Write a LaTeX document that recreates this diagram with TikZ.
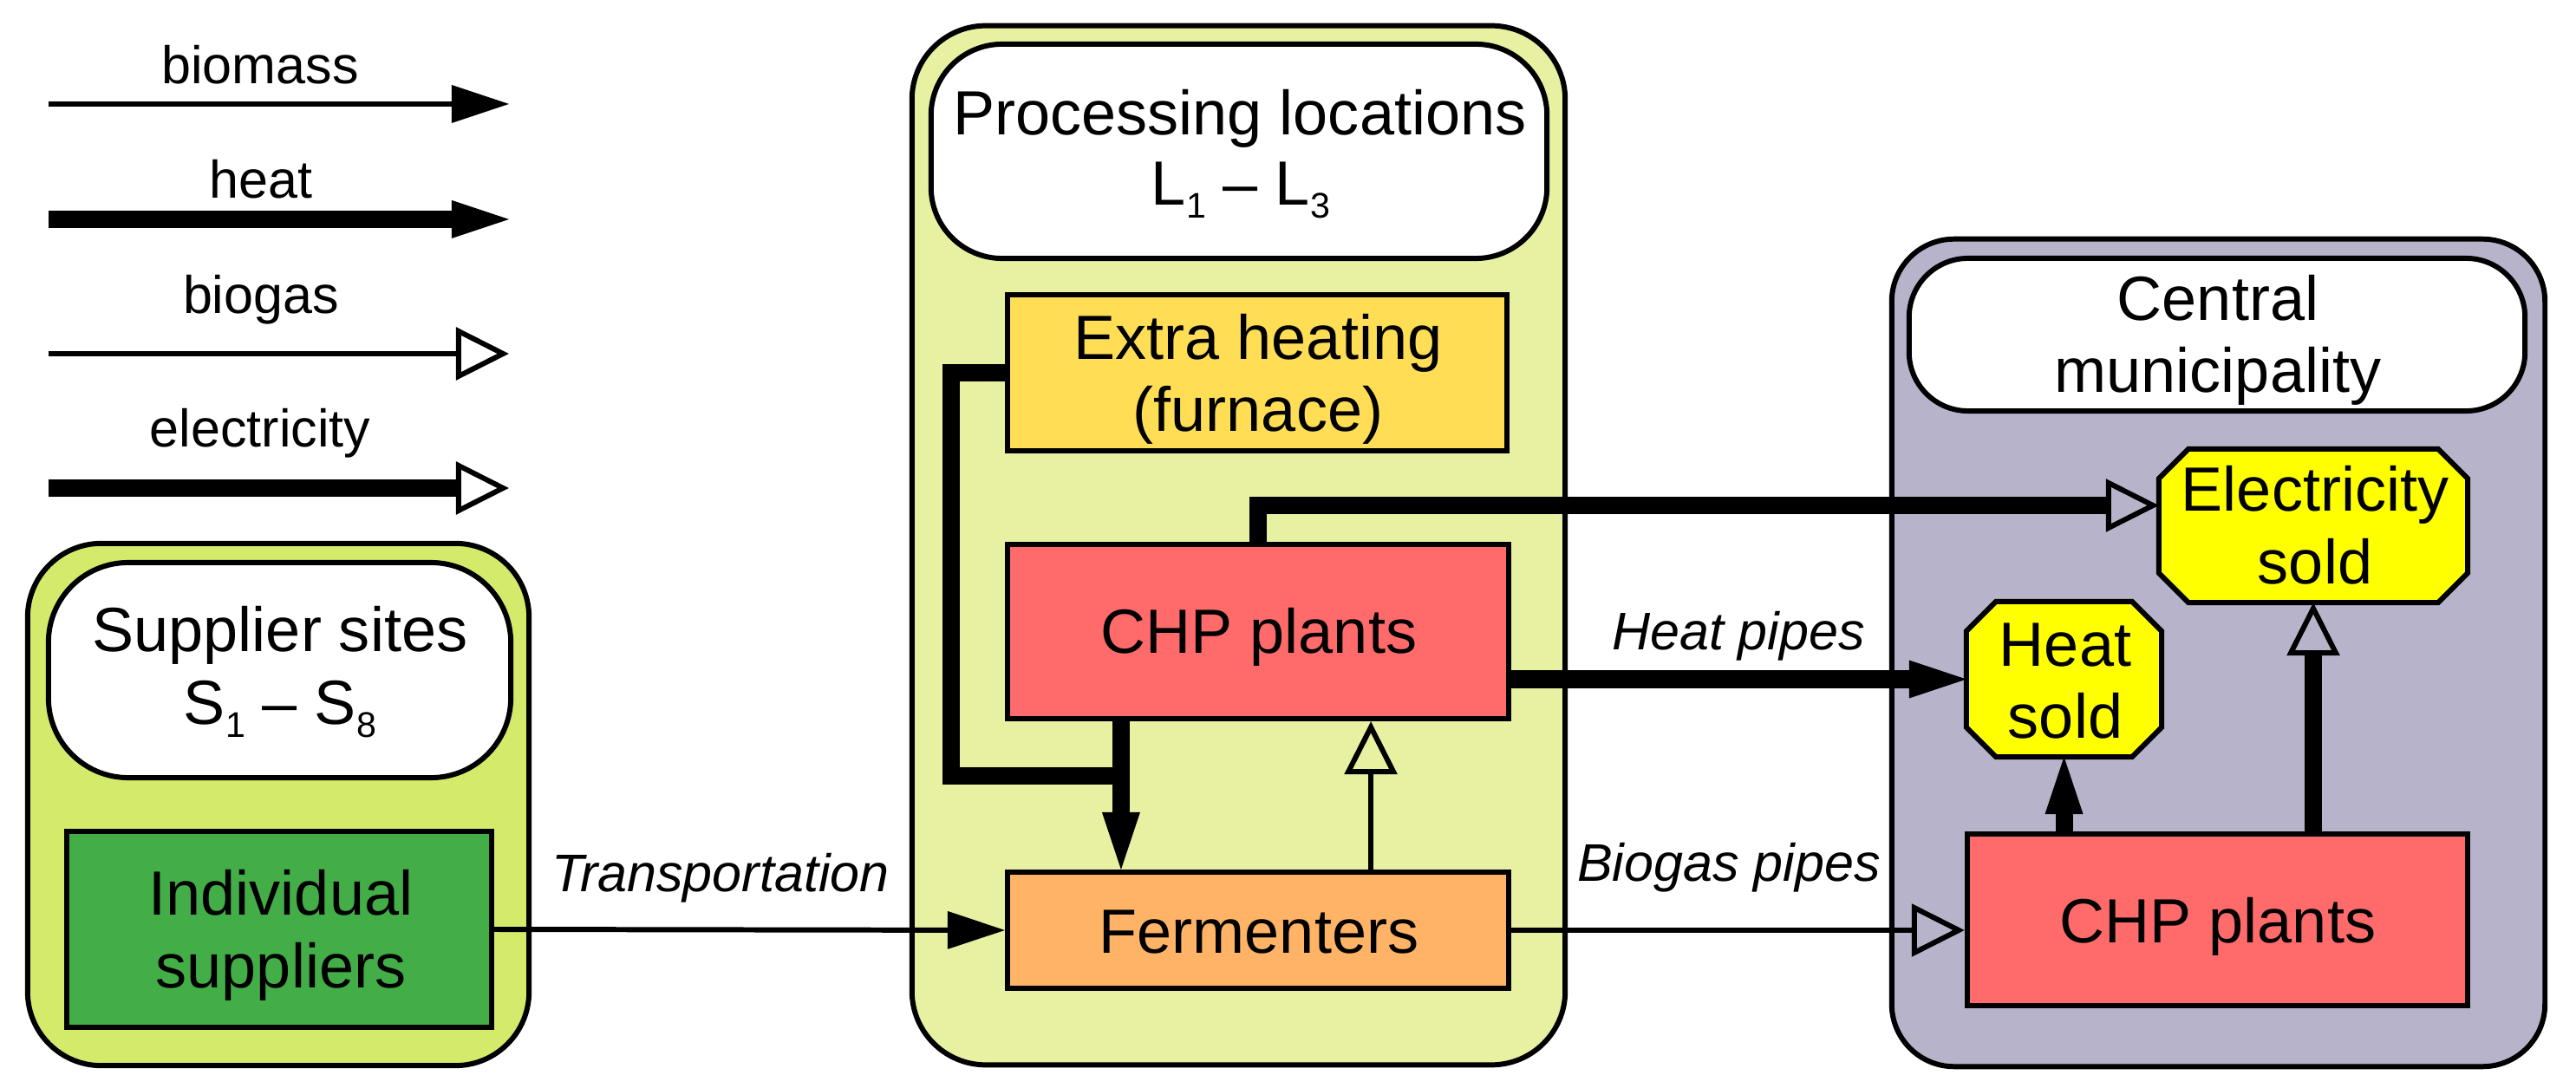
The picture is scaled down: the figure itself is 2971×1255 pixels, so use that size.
\documentclass[tikz,border=0pt]{standalone}
\usepackage{fontspec}
\setmainfont{Liberation Sans}
\usetikzlibrary{arrows.meta}
\definecolor{supfill}{RGB}{212,234,107}
\definecolor{procfill}{RGB}{232,241,162}
\definecolor{cenfill}{RGB}{183,179,203}
\definecolor{indfill}{RGB}{67,173,71}
\definecolor{extrafill}{RGB}{255,221,85}
\definecolor{chpfill}{RGB}{255,107,107}
\definecolor{fermfill}{RGB}{255,179,102}
\definecolor{soldfill}{RGB}{255,255,0}
\newcommand\subsc[1]{\raisebox{-0.2em}{\fontsize{11.7}{12}\selectfont #1}}
\tikzset{
  bw/.style={draw=black, line width=1.7pt},
  grp/.style={bw, rectangle, rounded corners=0.85cm, inner sep=0pt},
  box/.style={bw, rectangle, inner sep=0pt},
  anchorbox/.style={rectangle, inner sep=0pt, outer sep=0pt},
  txt/.style={font=\fontsize{20.49}{24}\selectfont, inner sep=0pt, anchor=base},
  ltxt/.style={font=\fontsize{17.36}{20}\selectfont, inner sep=0pt, anchor=base},
  itxt/.style={font=\fontsize{17.36}{20}\selectfont\itshape, inner sep=0pt, anchor=base},
  biomassflow/.style={line width=1.7pt, line join=miter, -{Triangle[length=18.78pt,width=12.52pt,line width=0pt]}},
  heatflow/.style={line width=5.69pt, line join=miter, -{Triangle[length=18.78pt,width=12.52pt,line width=0pt]}},
  heatline/.style={line width=5.69pt, line join=miter},
  biogasflow/.style={line width=1.7pt, line join=miter, -{Triangle[open,length=17.36pt,width=17.07pt,line width=1.7pt]}},
  elecflow/.style={line width=5.69pt, line join=miter, -{Triangle[open,length=17.36pt,width=17.07pt,line width=1.7pt]}},
}
\begin{document}
\begin{tikzpicture}[x=0.01cm, y=-0.01cm]
\useasboundingbox (0,0) rectangle (2971,1255);

% ---------------- legend ----------------
\coordinate (lb1) at (56,120);  \coordinate (lb2) at (587,120);
\coordinate (lh1) at (56,253);  \coordinate (lh2) at (587,253);
\coordinate (lg1) at (56,408);  \coordinate (lg2) at (587,408);
\coordinate (le1) at (56,563);  \coordinate (le2) at (587,563);
\draw[biomassflow] (lb1) -- (lb2);
\draw[heatflow] (lh1) -- (lh2);
\draw[biogasflow] (lg1) -- (lg2);
\draw[elecflow] (le1) -- (le2);
\node[ltxt] (tbiomass) at (300,97) {biomass};
\node[ltxt] (theat) at (301,229) {heat};
\node[ltxt] (tbiogas) at (301,362) {biogas};
\node[ltxt] (telec) at (300,516) {electricity};

% ---------------- group backgrounds ----------------
\node[grp, fill=supfill, minimum width=5.78cm, minimum height=6.02cm] (supgrp) at (321,928) {};
\node[grp, fill=white, rounded corners=0.92cm, minimum width=5.33cm, minimum height=2.48cm] (suptitle) at (322.5,773) {};
\node[box, fill=indfill, minimum width=4.90cm, minimum height=2.26cm] (indiv) at (322,1072) {};

\node[grp, fill=procfill, minimum width=7.53cm, minimum height=11.98cm] (procgrp) at (1428.5,629) {};
\node[grp, fill=white, rounded corners=0.82cm, minimum width=7.10cm, minimum height=2.47cm] (proctitle) at (1429,174.5) {};
\node[box, fill=extrafill, minimum width=5.76cm, minimum height=1.80cm] (extra) at (1450,430) {};
\node[box, fill=chpfill, minimum width=5.78cm, minimum height=2.01cm] (chpa) at (1451,728.5) {};
\node[box, fill=fermfill, minimum width=5.78cm, minimum height=1.34cm] (ferm) at (1451,1073) {};

\node[grp, fill=cenfill, rounded corners=0.72cm, minimum width=7.53cm, minimum height=9.54cm] (cengrp) at (2558.5,753) {};
\node[grp, fill=white, rounded corners=0.68cm, minimum width=7.10cm, minimum height=1.76cm] (centitle) at (2557,386) {};
\node[box, fill=chpfill, minimum width=5.77cm, minimum height=1.98cm] (chpb) at (2557.5,1061) {};

% octagons
\node[anchorbox, minimum width=3.56cm, minimum height=1.77cm] (esold) at (2668,606.5) {};
\node[anchorbox, minimum width=2.25cm, minimum height=1.79cm] (hsold) at (2380.5,783.5) {};
\foreach \n in {esold,hsold}{
  \draw[bw, fill=soldfill, line join=miter]
    ([xshift=0.34cm]\n.north west) -- ([xshift=-0.34cm]\n.north east)
    -- ([yshift=-0.34cm]\n.north east) -- ([yshift=0.34cm]\n.south east)
    -- ([xshift=-0.34cm]\n.south east) -- ([xshift=0.34cm]\n.south west)
    -- ([yshift=0.34cm]\n.south west) -- ([yshift=-0.34cm]\n.north west) -- cycle;
}

% ---------------- connectors ----------------
\draw[biomassflow] (indiv.east) -- (ferm.west);
\node[itxt] (ttransp) at (831,1028) {Transportation};

\coordinate (chpaout) at ([xshift=1.34cm]chpa.south west);
\coordinate (fermin) at ([xshift=1.34cm]ferm.north west);
\coordinate (hbend) at (1097,895);
\draw[heatline] (extra.west) -| (hbend) -- (chpaout |- hbend);
\draw[heatflow] (chpaout) -- (fermin);

\coordinate (fermout) at ([xshift=4.22cm]ferm.north west);
\coordinate (chpain) at ([xshift=4.22cm]chpa.south west);
\draw[biogasflow] (fermout) -- (chpain);

\coordinate (esin) at ([yshift=0.235cm]esold.west);
\draw[elecflow] (chpa.north) |- (esin);

\draw[heatflow] (chpa.east |- hsold.west) -- (hsold.west);
\node[itxt] (theatpipes) at (2005,750) {Heat pipes};

\draw[biogasflow] (ferm.east) -- (ferm.east -| chpb.west);
\node[itxt] (tbiogaspipes) at (1994,1017) {Biogas pipes};

\draw[heatflow] (chpb.north -| hsold.south) -- (hsold.south);
\draw[elecflow] (chpb.north -| esold.south) -- (esold.south);

% ---------------- texts ----------------
\node[txt] (tsup1) at (323,752) {Supplier sites};
\node[txt] (tsup2) at (323,836) {S\subsc{1} -- S\subsc{8}};
\node[txt] (tind1) at (324,1055) {Individual};
\node[txt] (tind2) at (324,1139) {suppliers};

\node[txt] (tproc1) at (1430,156) {Processing locations};
\node[txt] (tproc2) at (1431,237) {L\subsc{1} -- L\subsc{3}};
\node[txt] (text1) at (1451,415) {Extra heating};
\node[txt] (text2) at (1451,498) {(furnace)};
\node[txt] (tchpa) at (1452,754) {CHP plants};
\node[txt] (tferm) at (1452,1099) {Fermenters};

\node[txt] (tcen1) at (2558,370) {Central};
\node[txt] (tcen2) at (2558,453) {municipality};
\node[txt] (tes1) at (2670,590) {Electricity};
\node[txt] (tes2) at (2670,674) {sold};
\node[txt] (ths1) at (2382,768) {Heat};
\node[txt] (ths2) at (2382,851) {sold};
\node[txt] (tchpb) at (2558,1087) {CHP plants};
\end{tikzpicture}
\end{document}
